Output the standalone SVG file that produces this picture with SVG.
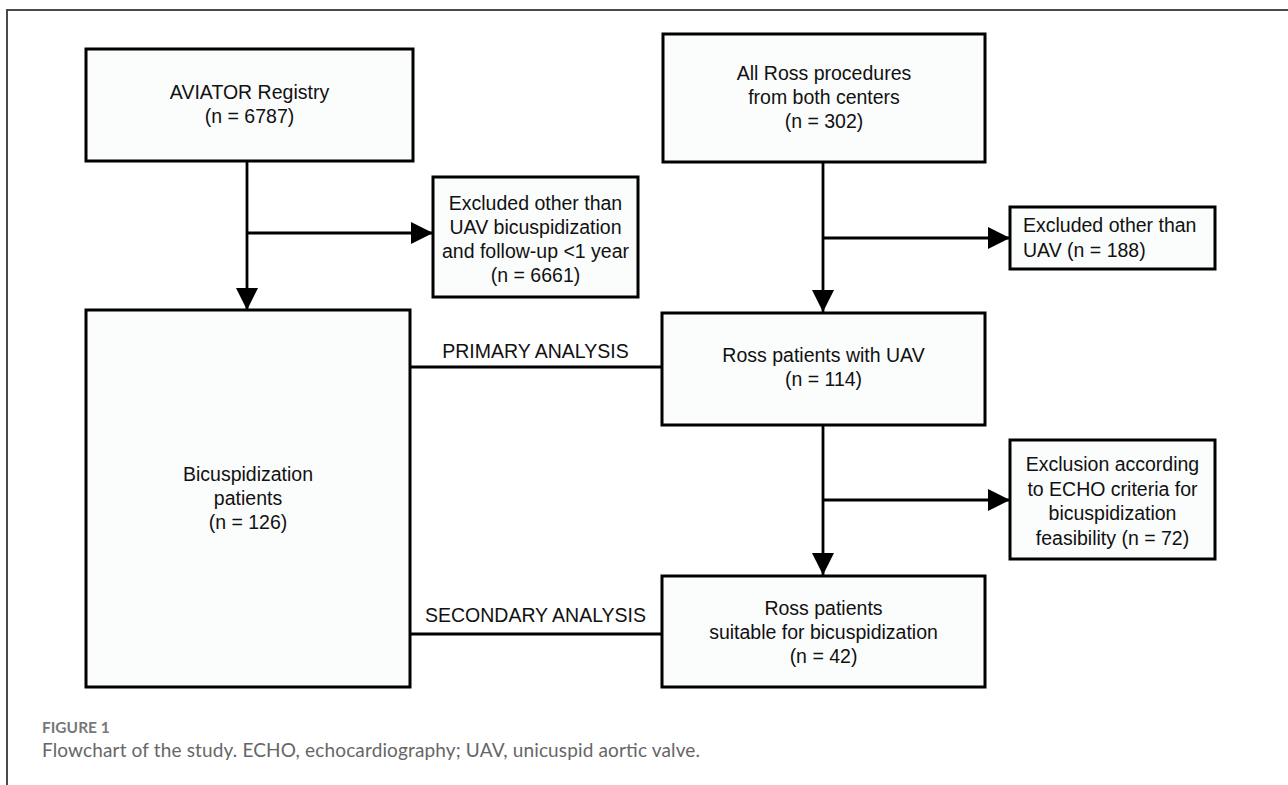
<svg xmlns="http://www.w3.org/2000/svg" width="1288" height="785" viewBox="0 0 1288 785">
<style>
.box{fill:#fbfcfc;stroke:#000;stroke-width:3}
.t{font-family:"Liberation Sans",Arial,sans-serif;font-size:19.5px;fill:#111;text-anchor:middle}
.tl{text-anchor:start}
.c{fill:none;stroke:#000;stroke-width:2.8}
.cap1{font-family:Lato,"Open Sans",sans-serif;font-size:15.5px;font-weight:bold;fill:#777}
.cap2{font-family:Lato,"Open Sans",sans-serif;font-size:19px;fill:#666}
</style>
<defs>
<marker id="ah" markerUnits="userSpaceOnUse" markerWidth="24" markerHeight="24" refX="22" refY="11" orient="auto" viewBox="0 0 24 24">
<path d="M0,0 L22,11 L0,22 z" fill="#000"/>
</marker>
</defs>
<rect width="1288" height="785" fill="#fff"/>
<g id="frame">
<path d="M7,785 V10 H1288" fill="none" stroke="#4a4a4a" stroke-width="2"/>
</g>
<g id="connectors">
<line class="c" x1="247" y1="161" x2="247" y2="310" marker-end="url(#ah)"/>
<line class="c" x1="247" y1="233" x2="433" y2="233" marker-end="url(#ah)"/>
<line class="c" x1="823" y1="162" x2="823" y2="312" marker-end="url(#ah)"/>
<line class="c" x1="823" y1="238" x2="1010" y2="238" marker-end="url(#ah)"/>
<line class="c" x1="823" y1="425" x2="823" y2="575" marker-end="url(#ah)"/>
<line class="c" x1="823" y1="500" x2="1010" y2="500" marker-end="url(#ah)"/>
<line class="c" x1="410" y1="367" x2="662" y2="367"/>
<line class="c" x1="410" y1="634" x2="662" y2="634"/>
<text class="t" x="535.5" y="358">PRIMARY ANALYSIS</text>
<text class="t" x="535.5" y="622">SECONDARY ANALYSIS</text>
</g>
<g id="aviator">
<rect class="box" x="86" y="49" width="327" height="112"/>
<text class="t" x="249.5" y="99">AVIATOR Registry</text>
<text class="t" x="249.5" y="123">(n = 6787)</text>
</g>
<g id="ross_all">
<rect class="box" x="663" y="34" width="322" height="128"/>
<text class="t" x="824" y="80">All Ross procedures</text>
<text class="t" x="824" y="104">from both centers</text>
<text class="t" x="824" y="128">(n = 302)</text>
</g>
<g id="excluded1">
<rect class="box" x="433" y="177" width="205" height="120"/>
<text class="t" x="535.5" y="210">Excluded other than</text>
<text class="t" x="535.5" y="234">UAV bicuspidization</text>
<text class="t" x="535.5" y="258">and follow-up &lt;1 year</text>
<text class="t" x="535.5" y="282">(n = 6661)</text>
</g>
<g id="excluded2">
<rect class="box" x="1010" y="207" width="205" height="62"/>
<text class="t tl" x="1023" y="232">Excluded other than</text>
<text class="t tl" x="1023" y="257">UAV (n = 188)</text>
</g>
<g id="bicusp">
<rect class="box" x="86" y="310" width="324" height="377"/>
<text class="t" x="248" y="481">Bicuspidization</text>
<text class="t" x="248" y="505">patients</text>
<text class="t" x="248" y="529">(n = 126)</text>
</g>
<g id="ross_uav">
<rect class="box" x="662" y="313" width="323" height="112"/>
<text class="t" x="823.5" y="362">Ross patients with UAV</text>
<text class="t" x="823.5" y="386">(n = 114)</text>
</g>
<g id="exclusion_echo">
<rect class="box" x="1010" y="440" width="205" height="119"/>
<text class="t" x="1112.5" y="471">Exclusion according</text>
<text class="t" x="1112.5" y="496">to ECHO criteria for</text>
<text class="t" x="1112.5" y="520">bicuspidization</text>
<text class="t" x="1112.5" y="545">feasibility (n = 72)</text>
</g>
<g id="ross_suitable">
<rect class="box" x="662" y="576" width="323" height="111"/>
<text class="t" x="823.5" y="615">Ross patients</text>
<text class="t" x="823.5" y="639">suitable for bicuspidization</text>
<text class="t" x="823.5" y="663">(n = 42)</text>
</g>
<g id="caption">
<text class="cap1" x="42" y="733">FIGURE 1</text>
<text class="cap2" x="42" y="757" textLength="658" lengthAdjust="spacing">Flowchart of the study. ECHO, echocardiography; UAV, unicuspid aortic valve.</text>
</g>
</svg>
